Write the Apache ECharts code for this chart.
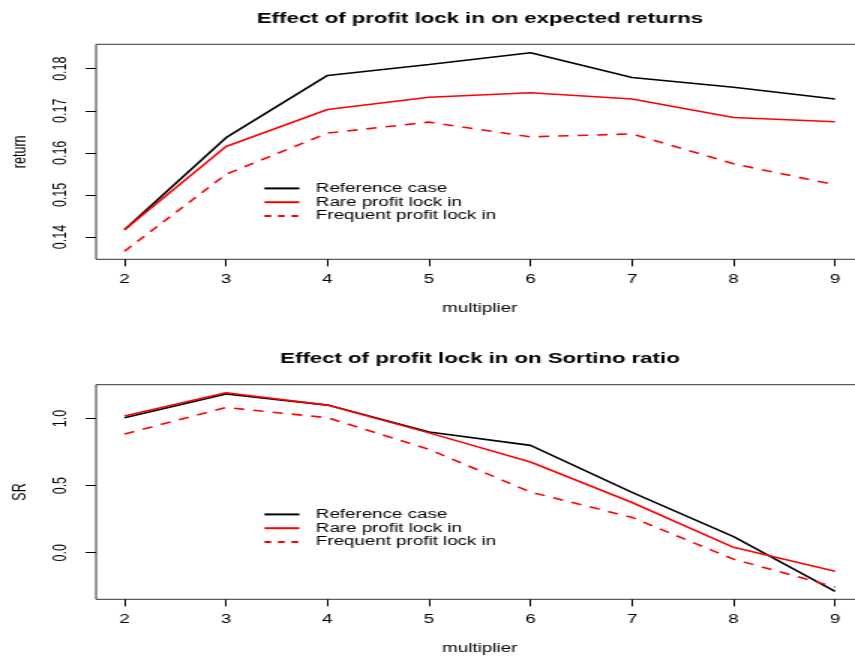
<!DOCTYPE html>
<html>
<head>
<meta charset="utf-8">
<script src="https://cdn.jsdelivr.net/npm/echarts@6/dist/echarts.min.js"></script>
<style>
  html, body { margin: 0; padding: 0; background: #fff; overflow: hidden; }
  #wrap { width: 855px; height: 657px; overflow: hidden; }
  /* the figure is laid out narrow and stretched horizontally */
  #chart { width: 570px; height: 657px; transform: scaleX(1.5); transform-origin: 0 0; }
</style>
</head>
<body>
<div id="wrap"><div id="chart"></div></div>
<script>
// multiplier values on the x axis
const multiplier = [2, 3, 4, 5, 6, 7, 8, 9];

// expected returns
const returnReference = [0.1417, 0.1636, 0.1784, 0.1810, 0.1838, 0.1779, 0.1756, 0.1728];
const returnRare      = [0.1417, 0.1615, 0.1703, 0.1732, 0.1743, 0.1728, 0.1684, 0.1674];
const returnFrequent  = [0.1366, 0.1549, 0.1647, 0.1673, 0.1638, 0.1645, 0.1574, 0.1524];

// Sortino ratios
const srReference = [1.005, 1.183, 1.100, 0.900, 0.800, 0.450, 0.120, -0.288];
const srRare      = [1.018, 1.192, 1.100, 0.893, 0.676, 0.374, 0.040, -0.138];
const srFrequent  = [0.884, 1.082, 1.006, 0.770, 0.452, 0.263, -0.048, -0.255];

// tick labels
const xTicks = [2, 3, 4, 5, 6, 7, 8, 9];
const returnTicks = [0.14, 0.15, 0.16, 0.17, 0.18];
const srTicks = [0.0, 0.5, 1.0];

const seriesNames = ['Reference case', 'Rare profit lock in', 'Frequent profit lock in'];

const FONT = 'Liberation Sans, Arial, Helvetica, sans-serif';
const pairs = (ys) => multiplier.map((x, i) => [x, ys[i]]);

const lineStyles = [
  { color: '#000000', width: 1.6, type: 'solid' },
  { color: '#ff0000', width: 1.6, type: 'solid' },
  { color: '#ff0000', width: 1.6, type: [7, 6] }
];

function makeX(gridIndex) {
  return {
    type: 'value', gridIndex, min: 1.72, max: 9.28,
    name: 'multiplier', nameLocation: 'middle', nameGap: 43,
    nameTextStyle: { fontFamily: FONT, fontSize: 12.5, color: '#000' },
    axisLine: { show: false, onZero: false },
    splitLine: { show: false },
    axisTick: { show: true, customValues: xTicks, length: 7, lineStyle: { color: '#000', width: 1 } },
    axisLabel: { customValues: xTicks, margin: 14, fontFamily: FONT, fontSize: 12.5, color: '#000' }
  };
}

function makeY(gridIndex, name, min, max, ticks, fmt) {
  return {
    type: 'value', gridIndex, min, max,
    name, nameLocation: 'middle', nameGap: 44.5,
    nameTextStyle: { fontFamily: FONT, fontSize: 12.5, color: '#000' },
    axisLine: { show: false, onZero: false },
    splitLine: { show: false },
    axisTick: { show: true, customValues: ticks, length: 7, lineStyle: { color: '#000', width: 1 } },
    axisLabel: {
      customValues: ticks, rotate: 90, margin: 17,
      fontFamily: FONT, fontSize: 12.5, color: '#000',
      formatter: fmt
    }
  };
}

function makeSeries(gridIndex, values) {
  return values.map((ys, k) => ({
    name: seriesNames[k], type: 'line',
    xAxisIndex: gridIndex, yAxisIndex: gridIndex,
    data: pairs(ys), symbol: 'none', silent: true, animation: false,
    lineStyle: lineStyles[k], itemStyle: { color: lineStyles[k].color }
  }));
}

function makeLegend(top) {
  return {
    orient: 'vertical', left: 175.3, top, padding: 0,
    itemWidth: 23.3, itemHeight: 8, itemGap: 0,
    selectedMode: false,
    itemStyle: { opacity: 0 },
    textStyle: { fontFamily: FONT, fontSize: 12.5, color: '#000', lineHeight: 13.8, padding: [0, 0, 0, 6] },
    data: [
      { name: seriesNames[0] },
      { name: seriesNames[1] },
      { name: seriesNames[2], lineStyle: { type: [4.5, 4.5] } }
    ]
  };
}

const chart = echarts.init(document.getElementById('chart'), null, { renderer: 'canvas' });
chart.setOption({
  backgroundColor: '#ffffff',
  animation: false,
  title: [
    { text: 'Effect of profit lock in on expected returns', left: 320, top: 11, textAlign: 'center', padding: 0,
      textStyle: { fontFamily: FONT, fontSize: 14.8, fontWeight: 'bold', color: '#000' } },
    { text: 'Effect of profit lock in on Sortino ratio', left: 320, top: 351, textAlign: 'center', padding: 0,
      textStyle: { fontFamily: FONT, fontSize: 14.8, fontWeight: 'bold', color: '#000' } }
  ],
  grid: [
    { left: 64.05, width: 511.6, top: 44.3, height: 215, outerBoundsMode: 'none', containLabel: false,
      show: true, borderColor: '#333', borderWidth: 1, backgroundColor: 'transparent' },
    { left: 64.05, width: 511.6, top: 384.7, height: 214.6, outerBoundsMode: 'none', containLabel: false,
      show: true, borderColor: '#333', borderWidth: 1, backgroundColor: 'transparent' }
  ],
  legend: [makeLegend(181.5), makeLegend(507.5)],
  xAxis: [makeX(0), makeX(1)],
  yAxis: [
    makeY(0, 'return', 0.1347, 0.1858, returnTicks, (v) => v.toFixed(2)),
    makeY(1, 'SR', -0.347, 1.252, srTicks, (v) => v.toFixed(1))
  ],
  series: [
    ...makeSeries(0, [returnReference, returnRare, returnFrequent]),
    ...makeSeries(1, [srReference, srRare, srFrequent])
  ]
});
</script>
</body>
</html>
